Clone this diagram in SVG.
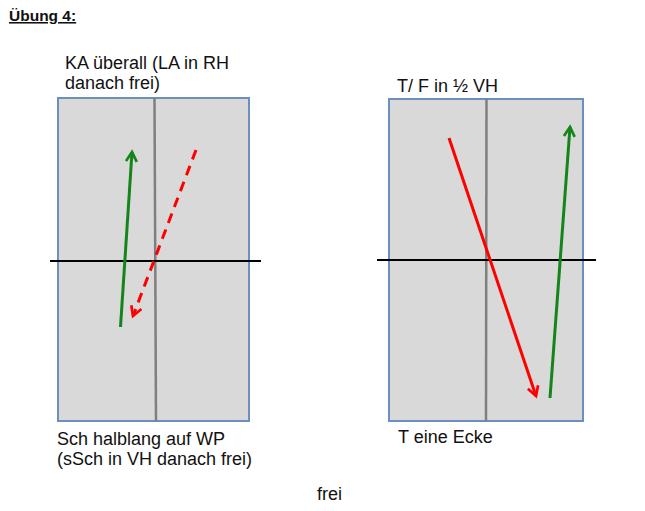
<svg xmlns="http://www.w3.org/2000/svg" width="645" height="511" viewBox="0 0 645 511">
<style>
text{font-family:"Liberation Sans",Arial,sans-serif;font-size:18px;fill:#111}
.field{fill:#d9d9d9;stroke:#6a8fc0;stroke-width:2}
.mid{stroke:#7f7f7f;stroke-width:2.5}
.hline{stroke:#000;stroke-width:2}
.g{stroke:#13851a;stroke-width:3;fill:none}
.r{stroke:#f00;stroke-width:3;fill:none}
</style>
<defs>
<marker id="ag" viewBox="0 0 10 10" refX="8" refY="5" markerWidth="4.5" markerHeight="4.5" orient="auto" markerUnits="strokeWidth">
<polyline points="1,1 8,5 1,9" fill="none" stroke="#13851a" stroke-width="2"/>
</marker>
<marker id="ar" viewBox="0 0 10 10" refX="8" refY="5" markerWidth="4.5" markerHeight="4.5" orient="auto" markerUnits="strokeWidth">
<polyline points="1,1 8,5 1,9" fill="none" stroke="#f00" stroke-width="2"/>
</marker>
</defs>
<g id="title"><text x="9" y="21" style="font-weight:bold;font-size:15.5px;text-decoration:underline">Übung 4:</text></g>
<g id="field-left">
<rect class="field" x="58" y="98" width="191" height="323"/>
<line class="mid" x1="154.5" y1="98" x2="156" y2="421"/>
<line class="hline" x1="50" y1="261" x2="261" y2="261"/>
<text x="65" y="69">KA überall (LA in RH</text>
<text x="65" y="89">danach frei)</text>
<text x="57" y="445">Sch halblang auf WP</text>
<text x="57" y="465">(sSch in VH danach frei)</text>
</g>
<g id="field-right">
<rect class="field" x="389" y="99" width="194" height="322"/>
<line class="mid" x1="486.5" y1="99" x2="486" y2="421"/>
<line class="hline" x1="377" y1="260" x2="596" y2="260"/>
<text x="397" y="92">T/ F in ½ VH</text>
<text x="398" y="443">T eine Ecke</text>
</g>
<g id="footer"><text x="317" y="500">frei</text></g>
<g id="connectors">
<line class="g" x1="120.5" y1="327" x2="132" y2="152" marker-end="url(#ag)"/>
<line class="r" x1="196" y1="150" x2="133" y2="316" stroke-dasharray="10,7" marker-end="url(#ar)"/>
<line class="r" x1="449" y1="138" x2="536" y2="396" marker-end="url(#ar)"/>
<line class="g" x1="550" y1="398" x2="570" y2="127" marker-end="url(#ag)"/>
</g>
</svg>
